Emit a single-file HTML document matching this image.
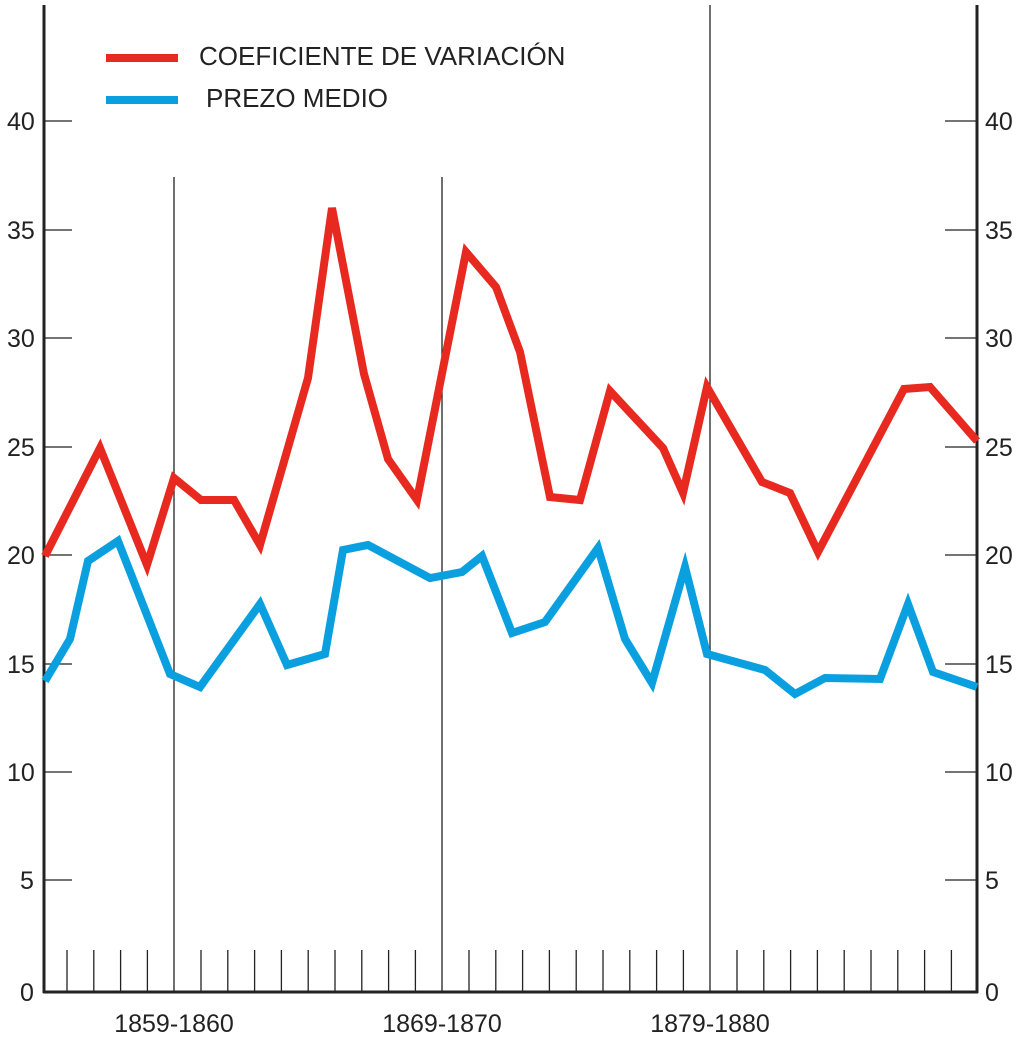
<!DOCTYPE html>
<html><head><style>body{margin:0;background:#fff}svg{display:block}text{font-family:"Liberation Sans",sans-serif;fill:#222}</style></head><body>
<svg width="1024" height="1048" viewBox="0 0 1024 1048">
<g stroke="#222" stroke-width="1.3">
<line x1="44" y1="121" x2="72" y2="121"/><line x1="44" y1="230" x2="72" y2="230"/><line x1="44" y1="338" x2="72" y2="338"/><line x1="44" y1="447" x2="72" y2="447"/><line x1="44" y1="555" x2="72" y2="555"/><line x1="44" y1="664" x2="72" y2="664"/><line x1="44" y1="772" x2="72" y2="772"/><line x1="44" y1="880" x2="72" y2="880"/>
<line x1="945" y1="121" x2="977" y2="121"/><line x1="945" y1="230" x2="977" y2="230"/><line x1="945" y1="338" x2="977" y2="338"/><line x1="945" y1="447" x2="977" y2="447"/><line x1="945" y1="555" x2="977" y2="555"/><line x1="945" y1="664" x2="977" y2="664"/><line x1="945" y1="772" x2="977" y2="772"/><line x1="945" y1="880" x2="977" y2="880"/>
<line x1="174" y1="177" x2="174" y2="992"/><line x1="442" y1="177" x2="442" y2="992"/><line x1="710" y1="5" x2="710" y2="992"/>
</g>
<g id="t" stroke="#222" stroke-width="1.3"></g>
<line x1="44" y1="5" x2="44" y2="993" stroke="#222" stroke-width="3"/>
<line x1="977" y1="5" x2="977" y2="993" stroke="#222" stroke-width="3"/>
<line x1="43" y1="992" x2="978" y2="992" stroke="#222" stroke-width="3"/>
<g font-size="25">
<text x="7" y="130">40</text><text x="7" y="239">35</text><text x="7" y="347">30</text><text x="7" y="456">25</text><text x="7" y="564">20</text><text x="7" y="673">15</text><text x="7" y="781">10</text><text x="20" y="889">5</text><text x="20" y="1001">0</text>
<text x="985" y="130">40</text><text x="985" y="239">35</text><text x="985" y="347">30</text><text x="985" y="456">25</text><text x="985" y="564">20</text><text x="985" y="673">15</text><text x="985" y="781">10</text><text x="985" y="889">5</text><text x="985" y="1001">0</text>
<text x="174" y="1032" text-anchor="middle">1859-1860</text><text x="442" y="1032" text-anchor="middle">1869-1870</text><text x="710" y="1032" text-anchor="middle">1879-1880</text>
</g>
<g font-size="26"><text x="199" y="65">COEFICIENTE DE VARIACIÓN</text><text x="206" y="107">PREZO MEDIO</text></g>
<line x1="106" y1="58" x2="178" y2="58" stroke="#e8291f" stroke-width="8"/>
<line x1="106" y1="100" x2="178" y2="100" stroke="#0aa0e0" stroke-width="8"/>
<polyline fill="none" stroke="#e8291f" stroke-width="8" stroke-linejoin="miter" points="45,556 100,448 147,565 174,478 201,500 234,500 260,545 308,378 332,208 364,374 388,459 417,500 466,252 496,287 520,352 550,497 580,500 610,391 663,448 683,493 707,387 762,482 790,493 818,552 904,389 930,387 977,441"/>
<polyline fill="none" stroke="#0aa0e0" stroke-width="8" stroke-linejoin="miter" points="45,681 70,639 88,561 118,541 170,674 200,687 260,604 287,665 325,654 343,550 368,545 430,578 462,572 482,556 512,633 545,622 598,548 625,639 652,683 685,567 707,654 765,670 795,694 825,678 880,679 908,604 933,672 977,687"/>
<script>
var g=document.getElementById('t');for(var i=0;i<35;i++){var x=67+i*26.8;if(Math.abs(x-174)<3||Math.abs(x-442)<3||Math.abs(x-710)<3||x>975)continue;var l=document.createElementNS('http://www.w3.org/2000/svg','line');l.setAttribute('x1',x);l.setAttribute('x2',x);l.setAttribute('y1',950);l.setAttribute('y2',992);g.appendChild(l);}
</script>
</svg></body></html>
